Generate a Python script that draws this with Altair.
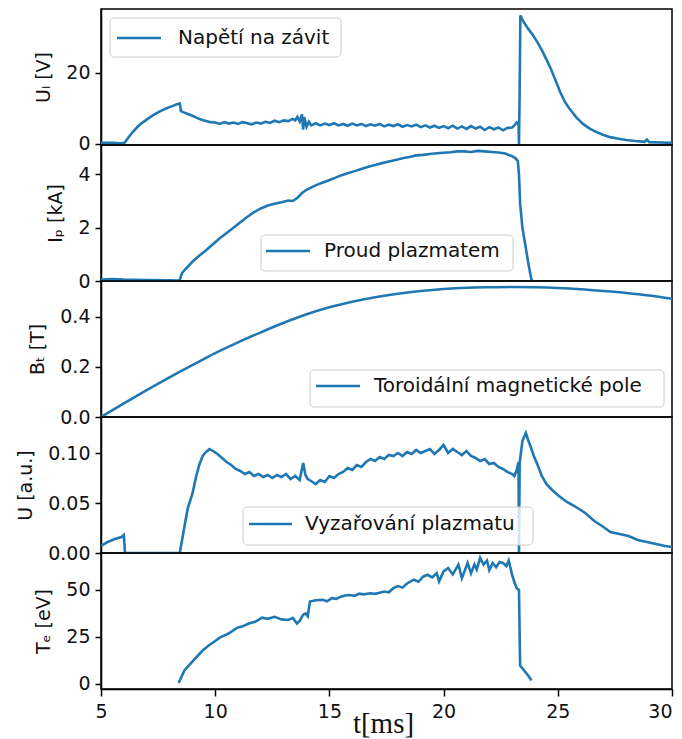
import altair as alt
import pandas as pd

# ---------------- data ----------------
# Panel 1: loop voltage U_l [V]
t_ul = [5.0, 5.5, 5.9, 6.03, 6.2, 6.4, 6.6, 6.8, 7.0, 7.2,
        7.4, 7.6, 7.8, 8.0, 8.2, 8.35, 8.45, 8.5, 8.6, 8.8,
        9.0, 9.2, 9.4, 9.6, 9.8, 10.0, 10.2, 10.4, 10.6, 10.8,
        11.0, 11.2, 11.4, 11.6, 11.8, 12.0, 12.2, 12.4, 12.6, 12.8,
        13.0, 13.2, 13.4, 13.5, 13.6, 13.7, 13.8, 13.85, 13.9, 14.0,
        14.1, 14.2, 14.4, 14.6, 14.8, 15.0, 15.2, 15.4, 15.6, 15.8,
        16.0, 16.2, 16.4, 16.6, 16.8, 17.0, 17.2, 17.4, 17.6, 17.8,
        18.0, 18.2, 18.4, 18.6, 18.8, 19.0, 19.2, 19.4, 19.6, 19.8,
        20.0, 20.2, 20.4, 20.6, 20.8, 21.0, 21.2, 21.4, 21.6, 21.8,
        22.0, 22.2, 22.4, 22.6, 22.8, 23.0, 23.1, 23.2, 23.28, 23.3,
        23.33, 23.36, 23.5, 23.7, 23.9, 24.1, 24.3, 24.5, 24.7, 24.9,
        25.1, 25.3, 25.5, 25.8, 26.1, 26.4, 26.7, 27.0, 27.3, 27.6,
        28.0, 28.4, 28.8, 28.9, 29.0, 29.5, 30.0]
u_loop = [0.3, 0.3, 0.2, 0.3, 1.8, 3.4, 4.8, 5.9, 6.8, 7.7,
          8.5, 9.2, 9.8, 10.3, 10.8, 11.2, 11.3, 9.2, 8.9, 8.4,
          7.9, 7.3, 6.8, 6.4, 6.1, 6.0, 5.6, 6.1, 5.7, 6.0,
          5.6, 6.1, 5.8, 5.5, 6.0, 5.7, 6.2, 5.9, 6.5, 6.1,
          6.6, 6.4, 7.0, 6.6, 7.6, 6.3, 8.3, 4.0, 7.5, 4.8,
          6.2, 5.2, 5.8, 5.2, 5.7, 5.3, 5.8, 5.2, 5.6, 5.1,
          5.7, 5.2, 5.6, 5.0, 5.5, 5.1, 5.6, 4.9, 5.4, 5.0,
          5.5, 4.8, 5.3, 4.9, 5.4, 4.7, 5.2, 4.6, 5.1, 4.5,
          5.0, 4.4, 5.1, 4.3, 4.9, 4.2, 5.0, 4.3, 4.8, 3.9,
          4.7, 4.1, 4.6, 3.8, 4.5, 4.6, 5.2, 6.0, 5.5, 0.0,
          15.0, 36.0, 34.2, 32.3, 30.6, 28.6, 26.3, 23.7, 21.0, 17.8,
          14.6, 11.9, 10.0, 7.5, 5.6, 4.3, 3.3, 2.5, 1.9, 1.5,
          1.1, 0.8, 0.6, 1.2, 0.5, 0.4, 0.3]

# Panel 2: plasma current I_p [kA]
t_ip = [5.0, 5.5, 6.0, 7.0, 8.0, 8.4, 8.45, 8.55, 8.7, 9.0,
        9.3, 9.6, 9.9, 10.2, 10.5, 10.8, 11.1, 11.4, 11.7, 12.0,
        12.3, 12.6, 12.9, 13.2, 13.4, 13.6, 13.8, 14.0, 14.3, 14.6,
        14.9, 15.2, 15.5, 15.8, 16.1, 16.4, 16.7, 17.0, 17.3, 17.6,
        17.9, 18.2, 18.5, 18.8, 19.1, 19.4, 19.7, 20.0, 20.3, 20.6,
        20.9, 21.2, 21.5, 21.8, 22.1, 22.4, 22.7, 23.0, 23.15, 23.25,
        23.3, 23.35, 23.45, 23.6, 23.7, 23.8, 23.85, 23.9]
i_plasma = [0.05, 0.07, 0.05, 0.04, 0.03, 0.02, 0.05, 0.3, 0.45, 0.72,
            0.95, 1.15, 1.38, 1.6, 1.8, 2.0, 2.2, 2.4, 2.58, 2.72,
            2.83, 2.9, 2.95, 3.02, 3.0, 3.12, 3.3, 3.42, 3.55, 3.66,
            3.75, 3.85, 3.96, 4.04, 4.12, 4.2, 4.28, 4.35, 4.42, 4.48,
            4.54, 4.6, 4.65, 4.71, 4.73, 4.76, 4.79, 4.81, 4.83, 4.86,
            4.86, 4.84, 4.88, 4.86, 4.84, 4.82, 4.78, 4.68, 4.6, 4.5,
            4.0, 2.9, 2.0, 1.25, 0.7, 0.25, 0.05, 0.0]

# Panel 3: toroidal field B_t [T]
t_bt = [5, 6, 7, 8, 9, 10, 11, 12, 13, 14, 15, 16, 17, 18, 19, 20,
        21, 22, 23, 24, 25, 26, 27, 28, 29, 30]
b_tor = [0.0, 0.054, 0.107, 0.158, 0.207, 0.255, 0.298, 0.338, 0.376, 0.41,
         0.438, 0.46, 0.478, 0.492, 0.503, 0.511, 0.516, 0.518, 0.519, 0.518,
         0.515, 0.51, 0.503, 0.495, 0.485, 0.472]

# Panel 4: plasma radiation U [a.u.]
t_rad = [5.0, 5.3, 5.6, 5.9, 6.0, 6.05, 7.0, 8.0, 8.45, 8.65,
         8.8, 9.0, 9.15, 9.3, 9.45, 9.6, 9.75, 9.9, 10.1, 10.3,
         10.5, 10.7, 10.9, 11.1, 11.3, 11.5, 11.7, 11.9, 12.1, 12.3,
         12.5, 12.7, 12.9, 13.1, 13.3, 13.5, 13.7, 13.85, 13.95, 14.05,
         14.2, 14.4, 14.6, 14.8, 15.0, 15.2, 15.4, 15.6, 15.8, 16.0,
         16.2, 16.4, 16.6, 16.8, 17.0, 17.2, 17.4, 17.6, 17.8, 18.0,
         18.2, 18.4, 18.6, 18.8, 19.0, 19.2, 19.4, 19.6, 19.8, 20.0,
         20.2, 20.4, 20.6, 20.8, 21.0, 21.2, 21.4, 21.6, 21.8, 22.0,
         22.2, 22.4, 22.6, 22.8, 23.0, 23.1, 23.2, 23.28, 23.3, 23.33,
         23.45, 23.6, 23.7, 23.8, 23.95, 24.1, 24.3, 24.5, 24.75, 25.05,
         25.4, 25.8, 26.2, 26.6, 27.0, 27.3, 27.7, 28.1, 28.5, 28.9,
         29.3, 29.7, 30.0]
u_rad = [0.007, 0.011, 0.014, 0.016, 0.018, 0.0, 0.0, 0.0, 0.0, 0.026,
         0.045, 0.059, 0.075, 0.088, 0.097, 0.101, 0.104, 0.102, 0.099, 0.095,
         0.091, 0.088, 0.084, 0.082, 0.079, 0.081, 0.077, 0.079, 0.076, 0.078,
         0.075, 0.078, 0.076, 0.079, 0.074, 0.077, 0.073, 0.09, 0.078, 0.074,
         0.072, 0.069, 0.073, 0.071, 0.077, 0.075, 0.079, 0.081, 0.085, 0.083,
         0.088, 0.086, 0.091, 0.094, 0.092, 0.096, 0.094, 0.098, 0.097, 0.1,
         0.097, 0.101, 0.099, 0.103, 0.1, 0.102, 0.104, 0.099, 0.103, 0.108,
         0.1, 0.104, 0.101, 0.098, 0.102, 0.097, 0.095, 0.092, 0.094, 0.089,
         0.09, 0.086, 0.084, 0.081, 0.079, 0.077, 0.083, 0.091, 0.0, 0.09,
         0.112, 0.12, 0.113, 0.107, 0.097, 0.089, 0.077, 0.069, 0.063, 0.057,
         0.051, 0.046, 0.04, 0.032, 0.026, 0.021, 0.019, 0.017, 0.013, 0.011,
         0.009, 0.007, 0.006]

# Panel 5: electron temperature T_e [eV]
t_te = [8.4, 8.55, 8.65, 8.9, 9.18, 9.45, 9.7, 9.94, 10.2, 10.45,
        10.7, 10.95, 11.2, 11.47, 11.75, 12.05, 12.3, 12.6, 12.9, 13.2,
        13.4, 13.58, 13.7, 13.85, 13.96, 14.05, 14.15, 14.4, 14.7, 14.9,
        15.1, 15.3, 15.5, 15.7, 15.87, 16.1, 16.3, 16.5, 16.8, 17.0,
        17.2, 17.4, 17.6, 17.8, 18.0, 18.2, 18.4, 18.7, 18.9, 19.1,
        19.3, 19.5, 19.7, 19.8, 20.0, 20.2, 20.4, 20.65, 20.8, 20.95,
        21.05, 21.2, 21.35, 21.45, 21.6, 21.75, 21.9, 22.0, 22.15, 22.3,
        22.45, 22.6, 22.75, 22.85, 23.0, 23.1, 23.2, 23.3, 23.35, 23.5,
        23.7, 23.85]
t_e = [0.5, 4.5, 7.2, 10.5, 14.3, 17.8, 20.3, 22.3, 24.6, 26.0,
       27.7, 29.8, 30.6, 32.1, 33.0, 35.2, 34.6, 35.7, 34.3, 34.0,
       35.1, 32.1, 33.5, 36.8, 37.5, 36.0, 43.8, 44.5, 44.7, 43.9,
       45.6, 45.2, 46.4, 47.0, 47.3, 46.8, 48.0, 47.6, 48.2, 47.9,
       48.5, 49.1, 48.7, 50.9, 52.0, 51.2, 53.4, 55.4, 54.3, 57.0,
       58.0, 56.6, 58.9, 54.5, 59.8, 61.6, 58.2, 63.4, 56.2, 61.0,
       64.3, 58.9, 63.5, 60.8, 67.0, 63.4, 65.6, 60.5, 64.3, 62.0,
       64.8, 64.3, 62.7, 65.6, 58.0, 54.0, 50.9, 50.0, 9.8, 7.5,
       4.5, 1.8]

x_ticks = [5, 10, 15, 20, 25, 30]
series_names = ["Napětí na závit", "Proud plazmatem",
                "Toroidální magnetické pole", "Vyzařování plazmatu"]

# ---------------- styling ----------------
BLUE = "#1f77b4"
W, H = 571, 136
FONT = "DejaVu Sans"
LW = 2.6


def make_legend(name, box, line, text_x):
    bx0, by0, bx1, by1 = box
    lx0, lx1, ly = line
    ldf = pd.DataFrame({"label": [name]})
    frame = alt.Chart(ldf).mark_rect(
        fill="white", fillOpacity=0.8, stroke="#cccccc", strokeWidth=1,
        cornerRadius=4
    ).encode(x=alt.value(bx0), x2=alt.value(bx1),
             y=alt.value(by0), y2=alt.value(by1))
    sample = alt.Chart(ldf).mark_rule(color=BLUE, strokeWidth=LW).encode(
        x=alt.value(lx0), x2=alt.value(lx1), y=alt.value(ly))
    txt = alt.Chart(ldf).mark_text(
        align="left", baseline="middle", font=FONT, fontSize=20,
        color="#111111"
    ).encode(x=alt.value(text_x), y=alt.value(ly), text="label:N")
    return [frame, sample, txt]


def panel(t, v, ydom, yticks, ytitle, yfmt, legend=None, bottom=False,
          interp="linear"):
    df = pd.DataFrame({"t": t, "v": v})
    if bottom:
        xax = alt.Axis(values=x_ticks, title="t[ms]", labelFlush=False,
                       labelAlign={"expr": "datum.value == 30 ? 'right' : 'center'"},
                       tickSize=7, labelPadding=6, labelFontSize=19,
                       titleFont="Liberation Serif", titleFontSize=29,
                       titleFontWeight="normal", titleY=43,
                       titleBaseline="alphabetic", titleX=282,
                       grid=False)
        xenc = alt.X("t:Q", scale=alt.Scale(domain=[5, 30], nice=False,
                                            zero=False), axis=xax)
    else:
        xenc = alt.X("t:Q", scale=alt.Scale(domain=[5, 30], nice=False,
                                            zero=False), axis=None)
    yenc = alt.Y("v:Q",
                 scale=alt.Scale(domain=ydom, nice=False, zero=False),
                 axis=alt.Axis(values=yticks, format=yfmt, title=ytitle,
                               grid=False))
    line = alt.Chart(df).mark_line(
        color=BLUE, strokeWidth=LW, clip=True, interpolate=interp
    ).encode(x=xenc, y=yenc)
    layers = [line]
    if legend is not None:
        layers += make_legend(*legend)
    return alt.layer(*layers).properties(width=W, height=H)


p1 = panel(t_ul, u_loop, [-0.3, 37.8], [0, 20], "Uₗ [V]", "d",
           legend=(series_names[0], (9, 9, 240, 48), (16, 60, 29), 77))
p2 = panel(t_ip, i_plasma, [0, 5.1], [0, 2, 4], "Iₚ [kA]", "d",
           legend=(series_names[1], (160, 90, 412, 126), (165, 209, 106), 223))
p3 = panel(t_bt, b_tor, [0, 0.543], [0, 0.2, 0.4], "Bₜ [T]", ".1f",
           legend=(series_names[2], (209, 89, 563, 126), (215, 259, 105), 273),
           interp="monotone")
p4 = panel(t_rad, u_rad, [0, 0.136], [0, 0.05, 0.1], "U [a.u.]", ".2f",
           legend=(series_names[3], (142, 90, 432, 128), (148, 191, 107), 204))
p5 = panel(t_te, t_e, [-2.7, 69.6], [0, 25, 50], "Tₑ [eV]", "d",
           bottom=True)

chart = alt.vconcat(p1, p2, p3, p4, p5, spacing=0, bounds="flush").properties(
    padding={"left": 7, "top": 0, "right": 0, "bottom": 0}
).configure_view(
    stroke="black", strokeWidth=1.5
).configure_axis(
    labelFont=FONT, titleFont=FONT, labelFontSize=19, titleFontSize=19,
    titleFontWeight="normal", labelColor="#111111", titleColor="#111111",
    tickColor="black", domainColor="black", tickWidth=1.5, domainWidth=1.5,
    tickSize=6, labelPadding=5, titlePadding=12
)

chart.save("out.html", embed_options={"renderer": "svg", "actions": False})
